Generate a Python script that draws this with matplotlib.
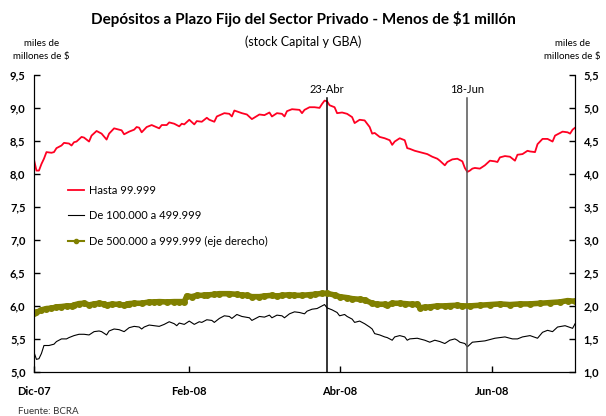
import matplotlib.pyplot as plt
import matplotlib.lines as mlines
import pandas as pd

plt.rcParams["font.family"] = ["Lato", "DejaVu Sans"]

start = pd.Timestamp("2007-12-28")

# Hasta 99.999 (eje izquierdo)
red_days = [0, 1, 2, 3, 4, 5, 7, 8, 9, 11, 12, 14, 15, 16, 17, 19, 20, 22, 23, 25,
            27, 29, 30, 32, 35, 36, 38, 40, 41, 42, 43, 45, 47, 50, 51, 53, 54, 56, 58, 59,
            60, 62, 64, 65, 67, 69, 70, 72, 73, 76, 78, 79, 80, 83, 85, 87, 90, 92, 94, 95,
            97, 99, 100, 101, 103, 106, 107, 108, 110, 112, 114, 115, 116, 117, 118, 120, 121, 123, 125, 127,
            128, 130, 132, 133, 134, 135, 136, 138, 140, 142, 143, 144, 146, 148, 149, 150, 152, 154, 157, 158,
            159, 161, 162, 164, 165, 167, 169, 171, 172, 173, 174, 175, 176, 178, 180, 182, 184, 185, 186, 188,
            190, 192, 193, 195, 197, 198, 200, 201, 203, 205, 207, 208, 210, 211, 213, 214, 215, 216]
red_vals = [8.22, 8.05, 8.05, 8.15, 8.23, 8.33, 8.32, 8.33, 8.39, 8.43, 8.47, 8.46, 8.43, 8.48, 8.49, 8.56, 8.55, 8.49, 8.58, 8.65,
            8.61, 8.52, 8.61, 8.69, 8.66, 8.60, 8.64, 8.67, 8.71, 8.70, 8.63, 8.71, 8.74, 8.69, 8.74, 8.74, 8.78, 8.76, 8.72, 8.76,
            8.75, 8.82, 8.75, 8.80, 8.79, 8.85, 8.82, 8.79, 8.87, 8.92, 8.91, 8.87, 8.96, 8.92, 8.90, 8.83, 8.90, 8.89, 8.93, 8.87,
            8.92, 8.91, 8.87, 8.95, 8.98, 8.97, 8.92, 8.97, 9.01, 9.01, 9.00, 9.06, 9.11, 9.10, 9.04, 9.01, 8.92, 8.93, 8.91, 8.86,
            8.77, 8.82, 8.81, 8.76, 8.71, 8.61, 8.62, 8.56, 8.54, 8.51, 8.44, 8.49, 8.54, 8.51, 8.39, 8.38, 8.35, 8.33, 8.30, 8.28,
            8.26, 8.23, 8.20, 8.13, 8.18, 8.22, 8.23, 8.19, 8.09, 8.03, 8.05, 8.08, 8.09, 8.08, 8.13, 8.20, 8.19, 8.18, 8.25, 8.27,
            8.26, 8.20, 8.29, 8.30, 8.35, 8.34, 8.33, 8.45, 8.53, 8.53, 8.49, 8.58, 8.62, 8.64, 8.63, 8.61, 8.67, 8.70]

# De 100.000 a 499.999 (eje izquierdo)
black_days = [0, 1, 2, 3, 4, 6, 8, 9, 11, 13, 14, 16, 18, 20, 22, 24, 26, 27, 29, 30,
              32, 34, 36, 38, 40, 42, 43, 44, 46, 48, 50, 52, 53, 54, 56, 57, 58, 60, 62, 64,
              66, 67, 69, 71, 72, 74, 76, 78, 79, 81, 83, 86, 87, 90, 92, 94, 95, 97, 99, 100,
              102, 104, 106, 108, 109, 111, 113, 114, 116, 117, 119, 121, 122, 124, 125, 127, 128, 130, 132, 134,
              135, 136, 138, 140, 141, 143, 144, 146, 148, 149, 150, 153, 156, 158, 160, 162, 164, 166, 168, 169,
              170, 172, 173, 175, 180, 184, 188, 191, 193, 195, 198, 201, 203, 205, 207, 209, 212, 215, 216]
black_vals = [5.30, 5.19, 5.20, 5.28, 5.40, 5.40, 5.42, 5.46, 5.50, 5.50, 5.52, 5.55, 5.57, 5.57, 5.56, 5.61, 5.62, 5.61, 5.56, 5.62,
              5.65, 5.64, 5.61, 5.67, 5.69, 5.68, 5.65, 5.68, 5.71, 5.70, 5.69, 5.72, 5.74, 5.76, 5.73, 5.70, 5.74, 5.72, 5.77, 5.72,
              5.76, 5.75, 5.79, 5.78, 5.75, 5.81, 5.85, 5.84, 5.81, 5.87, 5.84, 5.82, 5.78, 5.84, 5.83, 5.86, 5.82, 5.86, 5.85, 5.82,
              5.88, 5.91, 5.90, 5.88, 5.92, 5.95, 5.96, 5.98, 6.02, 5.97, 5.94, 5.90, 5.85, 5.87, 5.84, 5.80, 5.75, 5.77, 5.73, 5.68,
              5.65, 5.58, 5.56, 5.53, 5.52, 5.48, 5.53, 5.55, 5.53, 5.48, 5.50, 5.51, 5.48, 5.45, 5.48, 5.46, 5.43, 5.48, 5.50, 5.48,
              5.45, 5.43, 5.38, 5.45, 5.47, 5.51, 5.53, 5.50, 5.50, 5.53, 5.55, 5.51, 5.60, 5.63, 5.61, 5.68, 5.70, 5.66, 5.73]

# De 500.000 a 999.999 (eje derecho)
olive_days = [0, 1, 3, 5, 7, 9, 11, 13, 15, 16, 18, 20, 22, 24, 26, 28, 29, 31, 34, 36,
              37, 38, 40, 43, 46, 48, 50, 53, 56, 58, 60, 61, 63, 65, 68, 69, 72, 74, 78, 81,
              83, 85, 87, 90, 92, 95, 97, 99, 102, 104, 107, 110, 112, 115, 117, 120, 122, 125, 127, 130,
              132, 135, 137, 140, 141, 143, 146, 148, 151, 153, 154, 156, 158, 161, 164, 166, 169, 171, 174, 178,
              182, 186, 190, 194, 198, 202, 206, 210, 213, 216]
olive_vals = [1.885, 1.90, 1.94, 1.96, 1.965, 1.985, 1.99, 2.00, 2.00, 2.015, 2.035, 2.04, 2.015, 2.03, 2.04, 2.03, 2.015, 2.025, 2.025, 2.01,
              2.025, 2.035, 2.04, 2.04, 2.06, 2.06, 2.065, 2.06, 2.065, 2.065, 2.065, 2.15, 2.14, 2.16, 2.16, 2.165, 2.175, 2.185, 2.185, 2.175,
              2.165, 2.16, 2.14, 2.14, 2.15, 2.16, 2.15, 2.16, 2.17, 2.16, 2.16, 2.17, 2.175, 2.19, 2.19, 2.165, 2.14, 2.125, 2.11, 2.10,
              2.09, 2.04, 2.025, 2.025, 2.01, 2.04, 2.04, 2.035, 2.025, 2.025, 1.975, 1.98, 1.985, 2.00, 2.00, 2.005, 2.01, 2.00, 2.00, 2.01,
              2.02, 2.03, 2.02, 2.03, 2.03, 2.04, 2.05, 2.06, 2.08, 2.07]

tick_dates = ["2007-12-28", "2008-02-28", "2008-04-28", "2008-06-28"]
tick_labels = ["Dic-07", "Feb-08", "Abr-08", "Jun-08"]
event_dates = ["2008-04-23", "2008-06-18"]
event_labels = ["23-Abr", "18-Jun"]
event_colors = ["black", "#555555"]
left_ticks = [5.0, 5.5, 6.0, 6.5, 7.0, 7.5, 8.0, 8.5, 9.0, 9.5]
right_ticks = [1.0, 1.5, 2.0, 2.5, 3.0, 3.5, 4.0, 4.5, 5.0, 5.5]

red_x = start + pd.to_timedelta(red_days, unit="D")
black_x = start + pd.to_timedelta(black_days, unit="D")
olive_x = start + pd.to_timedelta(olive_days, unit="D")

fig = plt.figure(figsize=(6.06, 4.16), dpi=100)
ax = fig.add_axes([0.056, 0.106, 0.893, 0.714])
ax2 = ax.twinx()

ax.plot(red_x, red_vals, color="#ff0022", lw=1.3)
ax.plot(black_x, black_vals, color="black", lw=0.8)
ax2.plot(olive_x, olive_vals, color="#808000", lw=4, marker="o", ms=4)

# Event lines
for d, lab, c in zip(event_dates, event_labels, event_colors):
    d = pd.Timestamp(d)
    ax.plot([d, d], [5.0, 9.15], color=c, lw=1.1)
    ax.text(d, 9.19, lab, ha="center", va="bottom", fontsize=8)

ax.set_xlim(start, start + pd.Timedelta(days=216))
ax.set_ylim(5.0, 9.5)
ax2.set_ylim(1.0, 5.5)

ax.set_xticks(pd.to_datetime(tick_dates))
ax.set_xticklabels(tick_labels, fontsize=8, fontweight="bold")
ax.set_yticks(left_ticks)
ax.set_yticklabels([f"{v:.1f}".replace(".", ",") for v in left_ticks], fontsize=8, fontweight="bold")
ax2.set_yticks(right_ticks)
ax2.set_yticklabels([f"{v:.1f}".replace(".", ",") for v in right_ticks], fontsize=8, fontweight="bold")

for a in (ax, ax2):
    a.spines["top"].set_visible(False)
    a.tick_params(direction="in", length=4, width=1)
ax.tick_params(axis="x", pad=10)
ax.tick_params(axis="y", pad=6)
ax2.tick_params(axis="y", pad=6)

handles = [
    mlines.Line2D([], [], color="#ff0022", lw=1.3),
    mlines.Line2D([], [], color="black", lw=0.8),
    mlines.Line2D([], [], color="#808000", lw=1.5, marker="o", ms=3),
]
labels = ["Hasta 99.999", "De 100.000 a 499.999", "De 500.000 a 999.999 (eje derecho)"]
fig.legend(handles, labels, loc="upper left", bbox_to_anchor=(0.095, 0.58),
           frameon=False, fontsize=8, handlelength=1.5, handletextpad=0.4,
           labelspacing=1.3)

fig.text(0.5, 0.955, "Depósitos a Plazo Fijo del Sector Privado - Menos de $1 millón",
         ha="center", va="center", fontsize=11, fontweight="bold")
fig.text(0.5, 0.9, "(stock Capital y GBA)", ha="center", va="center", fontsize=9)
fig.text(0.068, 0.88, "miles de\nmillones de $", ha="center", va="center", fontsize=7, linespacing=1.6)
fig.text(0.945, 0.88, "miles de\nmillones de $", ha="center", va="center", fontsize=7, linespacing=1.6)
fig.text(0.03, 0.012, "Fuente: BCRA", ha="left", va="center", fontsize=7, color="#333333")

fig.savefig("out.png", dpi=100)
